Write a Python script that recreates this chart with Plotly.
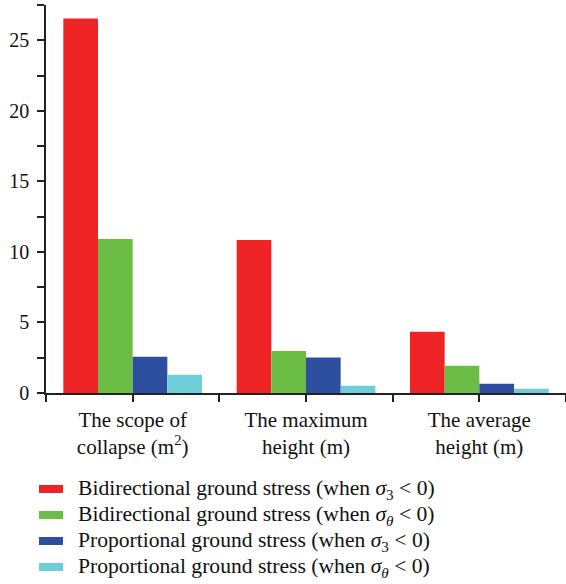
import plotly.graph_objects as go

# ---- data ----
categories = ["The scope of<br>collapse (m<sup>2</sup>)", "The maximum<br>height (m)", "The average<br>height (m)"]
series_names = [
    "Bidirectional ground stress (when <i>σ</i><sub>3</sub> &lt; 0)",
    "Bidirectional ground stress (when <i>σ</i><sub><i>θ</i></sub> &lt; 0)",
    "Proportional ground stress (when <i>σ</i><sub>3</sub> &lt; 0)",
    "Proportional ground stress (when <i>σ</i><sub><i>θ</i></sub> &lt; 0)",
]
bidir_s3 = [26.55, 10.85, 4.35]
bidir_st = [10.92, 2.97, 1.93]
prop_s3 = [2.57, 2.52, 0.66]
prop_st = [1.30, 0.52, 0.31]
y_ticks = [0, 5, 10, 15, 20, 25]

series_values = [bidir_s3, bidir_st, prop_s3, prop_st]
colors = ["#EE2326", "#6CBD46", "#2E4F9F", "#6DCDD8"]

FONT = "Liberation Serif"
x_pos = list(range(len(categories)))

fig = go.Figure()
for name, vals, col in zip(series_names, series_values, colors):
    fig.add_trace(go.Bar(x=x_pos, y=vals, name=name, marker=dict(color=col, line=dict(width=0)),
                         showlegend=False))

# custom legend (swatches + text)
W, H = 566, 584
L, R, T, B = 46, 0, 5, 191
pw, ph = W - L - R, H - T - B
def px_to_paper_x(px):
    return (px - L) / pw
def px_to_paper_y(py):
    return (H - B - py) / ph

row_y = [489, 515, 541, 567]
shapes = []
annotations = []
for yy, name, col in zip(row_y, series_names, colors):
    shapes.append(dict(type="rect", xref="paper", yref="paper",
                       x0=px_to_paper_x(39), x1=px_to_paper_x(63),
                       y0=px_to_paper_y(yy + 4), y1=px_to_paper_y(yy - 4),
                       fillcolor=col, line=dict(width=0)))
    annotations.append(dict(xref="paper", yref="paper", x=px_to_paper_x(76), y=px_to_paper_y(yy),
                            xanchor="left", yanchor="middle", text=name, showarrow=False,
                            font=dict(family=FONT, size=21.6, color="#111")))

fig.update_layout(
    width=W, height=H,
    margin=dict(l=L, r=R, t=T, b=B, pad=0),
    paper_bgcolor="white", plot_bgcolor="white",
    barmode="group", bargap=0.2, bargroupgap=0,
    font=dict(family=FONT, color="#111"),
    shapes=shapes, annotations=annotations,
    xaxis=dict(range=[-0.5, 2.5], tickvals=x_pos, ticktext=categories,
               showline=True, linecolor="#222", linewidth=1.5, showgrid=False, zeroline=False,
               ticks="outside", ticklen=7, tickwidth=1.5, tickcolor="#222",
               minor=dict(ticks="outside", tick0=0.5, dtick=1, ticklen=7, tickwidth=1.5, tickcolor="#222"),
               tickfont=dict(family=FONT, size=21, color="#111")),
    yaxis=dict(range=[0, 27.5], tickvals=y_ticks,
               showline=True, linecolor="#222", linewidth=1.5, showgrid=False, zeroline=False,
               ticks="outside", ticklen=7, tickwidth=1.5, tickcolor="#222", ticklabelstandoff=4,
               minor=dict(ticks="outside", tick0=0, dtick=2.5, ticklen=7, tickwidth=1.5, tickcolor="#222"),
               tickfont=dict(family=FONT, size=20, color="#111")),
)

fig.write_html("out.html")
